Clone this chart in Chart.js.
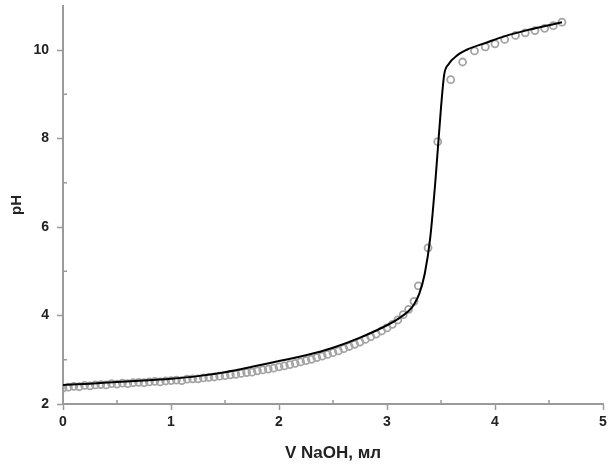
<!DOCTYPE html>
<html>
<head>
<meta charset="utf-8">
<script src="https://cdn.jsdelivr.net/npm/chart.js@4.4.1/dist/chart.umd.min.js"></script>
<style>
  html, body { margin: 0; padding: 0; background: #fff; }
</style>
</head>
<body>
<canvas id="myChart" width="611" height="468"></canvas>
<script>
// расчётная кривая титрования
const modelV  = [0, 0.25, 0.5, 0.75, 1.0, 1.25, 1.5, 1.75, 2.0, 2.25, 2.5, 2.75, 3.0, 3.1, 3.2, 3.25, 3.3, 3.35, 3.4, 3.45, 3.5, 3.53, 3.57, 3.65, 3.75, 3.9, 4.1, 4.3, 4.5, 4.62];
const modelPH = [2.43, 2.46, 2.50, 2.53, 2.57, 2.63, 2.72, 2.84, 2.97, 3.10, 3.27, 3.50, 3.78, 3.92, 4.10, 4.25, 4.50, 4.95, 5.75, 7.10, 8.70, 9.45, 9.68, 9.88, 10.02, 10.15, 10.32, 10.45, 10.56, 10.63];

// экспериментальные точки
const expV  = [0.00, 0.05, 0.10, 0.15, 0.20, 0.25, 0.30, 0.35, 0.40, 0.45, 0.50, 0.55, 0.60, 0.65, 0.70, 0.75, 0.80, 0.85, 0.90, 0.95,
               1.00, 1.05, 1.10, 1.15, 1.20, 1.25, 1.30, 1.35, 1.40, 1.45, 1.50, 1.55, 1.60, 1.65, 1.70, 1.75, 1.80, 1.85, 1.90, 1.95,
               2.00, 2.05, 2.10, 2.15, 2.20, 2.25, 2.30, 2.35, 2.40, 2.45, 2.50, 2.55, 2.60, 2.65, 2.70, 2.75, 2.80, 2.85, 2.90, 2.95,
               3.00, 3.05, 3.10, 3.15, 3.20, 3.25, 3.29, 3.38, 3.47, 3.59, 3.70, 3.81, 3.91, 4.00, 4.09, 4.19, 4.28, 4.37, 4.46, 4.54, 4.62];
const expPH = [2.36, 2.38, 2.40, 2.39, 2.42, 2.41, 2.43, 2.44, 2.43, 2.46, 2.45, 2.47, 2.46, 2.48, 2.49, 2.48, 2.50, 2.51, 2.50, 2.52,
               2.53, 2.54, 2.53, 2.56, 2.57, 2.57, 2.59, 2.60, 2.61, 2.63, 2.64, 2.66, 2.67, 2.69, 2.71, 2.72, 2.75, 2.77, 2.79, 2.81,
               2.84, 2.86, 2.89, 2.92, 2.95, 2.98, 3.01, 3.05, 3.08, 3.12, 3.16, 3.20, 3.25, 3.30, 3.35, 3.40, 3.46, 3.52, 3.58, 3.65,
               3.72, 3.80, 3.90, 4.02, 4.14, 4.32, 4.67, 5.53, 7.93, 9.33, 9.73, 9.98, 10.07, 10.14, 10.24, 10.33, 10.39, 10.44, 10.49, 10.55, 10.63];

const xTicks = [0, 1, 2, 3, 4, 5];
const yTicks = [2, 4, 6, 8, 10];
const xMinor = [0.5, 1.5, 2.5, 3.5, 4.5];
const yMinor = [3, 5, 7, 9];

const axisColor = '#9a9a9a';
const labelFont = { family: 'Liberation Sans', size: 14, weight: 'bold' };
const titleFont = { family: 'Liberation Sans', size: 17, weight: 'bold' };

// маленькие промежуточные засечки
const minorTicks = {
    id: 'minorTicks',
    afterDraw(chart) {
        const c = chart.ctx;
        const x = chart.scales.x, y = chart.scales.y;
        c.save();
        c.strokeStyle = axisColor;
        c.lineWidth = 1.5;
        xMinor.forEach(v => {
            const px = x.getPixelForValue(v);
            c.beginPath();
            c.moveTo(px, y.bottom);
            c.lineTo(px, y.bottom - 4);
            c.stroke();
        });
        yMinor.forEach(v => {
            const py = y.getPixelForValue(v);
            c.beginPath();
            c.moveTo(x.left, py);
            c.lineTo(x.left + 4, py);
            c.stroke();
        });
        c.restore();
    }
};

const ctx = document.getElementById('myChart');
const myChart = new Chart(ctx, {
    type: 'scatter',
    data: {
        datasets: [{
            label: 'расчёт',
            data: modelV.map((v, i) => ({ x: v, y: modelPH[i] })),
            showLine: true,
            borderColor: '#000',
            borderWidth: 2,
            pointRadius: 0,
            cubicInterpolationMode: 'monotone'
        },
        {
            label: 'эксперимент',
            data: expV.map((v, i) => ({ x: v, y: expPH[i] })),
            showLine: false,
            pointRadius: 3.5,
            pointBorderWidth: 1.8,
            pointBorderColor: '#a4a4a4',
            pointBackgroundColor: 'rgba(255,255,255,0)'
        }]
    },
    options: {
        responsive: false,
        animation: false,
        layout: {
            padding: { left: 0, right: 8, top: 3, bottom: 0 }
        },
        scales: {
            x: {
                type: 'linear',
                min: 0,
                max: 5,
                afterBuildTicks: s => { s.ticks = xTicks.map(v => ({ value: v })); },
                afterFit: s => { s.height = 64; s.paddingLeft = 0; s.paddingRight = 0; },
                border: { color: axisColor, width: 2 },
                grid: { drawOnChartArea: false, color: axisColor, tickLength: 6, tickWidth: 1.5 },
                ticks: { color: '#222', font: labelFont, padding: 4, maxRotation: 0 },
                title: {
                    display: true,
                    text: 'V NaOH, мл',
                    color: '#222',
                    font: titleFont,
                    padding: { top: 6 }
                }
            },
            y: {
                min: 2,
                max: 11,
                afterBuildTicks: s => { s.ticks = yTicks.map(v => ({ value: v })); },
                afterFit: s => { s.width = 63; s.paddingTop = 0; s.paddingBottom = 0; },
                border: { color: axisColor, width: 2 },
                grid: { drawOnChartArea: false, color: axisColor, tickLength: 6, tickWidth: 1.5 },
                ticks: { color: '#222', font: labelFont, padding: 8 },
                title: {
                    display: true,
                    text: 'pH',
                    color: '#222',
                    font: { family: 'Liberation Sans', size: 15, weight: 'bold' },
                    padding: { top: 8, bottom: 2 }
                }
            }
        },
        plugins: {
            legend: false,
            tooltip: { enabled: false }
        }
    },
    plugins: [minorTicks]
});
</script>
</body>
</html>
